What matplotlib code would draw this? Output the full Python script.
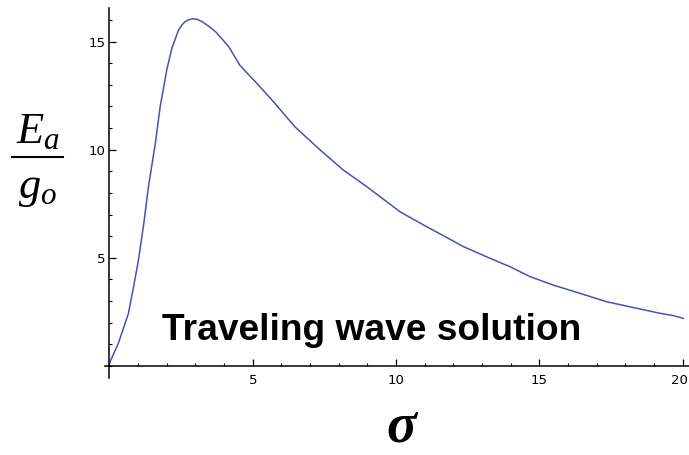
import matplotlib
matplotlib.use("Agg")
import matplotlib.pyplot as plt
from matplotlib.ticker import MultipleLocator
from matplotlib.lines import Line2D
from matplotlib.transforms import ScaledTranslation

plt.rcParams['mathtext.fontset'] = 'custom'
plt.rcParams['mathtext.it'] = 'Liberation Serif:italic'
plt.rcParams['mathtext.rm'] = 'Liberation Serif'

# Traveling wave solution: normalised field E_a/g_o versus sigma
sigma = [0.0, 0.02, 0.31, 0.66, 0.84, 1.01, 1.19, 1.36, 1.6, 1.77, 2.0, 2.18,
         2.41, 2.53, 2.64, 2.77, 2.9, 3.05, 3.23, 3.45, 3.7, 4.16, 4.55, 5.14,
         5.72, 6.47, 7.35, 8.16, 8.98, 9.44, 10.14, 11.07, 11.88, 12.35, 13.28,
         13.98, 14.68, 15.49, 16.42, 17.35, 18.4, 19.2, 19.68, 20.03]
field = [0.1, 0.2, 1.05, 2.43, 3.66, 4.9, 6.52, 8.29, 10.3, 12.0, 13.7, 14.7,
         15.53, 15.77, 15.92, 16.01, 16.05, 16.03, 15.92, 15.72, 15.46, 14.77,
         13.9, 13.07, 12.22, 11.06, 9.99, 9.06, 8.29, 7.83, 7.13, 6.44, 5.86,
         5.52, 4.98, 4.59, 4.13, 3.74, 3.36, 2.97, 2.67, 2.44, 2.33, 2.2]

x_major = [5, 10, 15, 20]
y_major = [5, 10, 15]

fig = plt.figure(figsize=(6.89, 4.55), dpi=100)
ax = fig.add_axes([105.2 / 689, (455 - 377.9) / 455, 584.5 / 689, 369.9 / 455])

ax.plot(sigma, field, color='#4b50b2', lw=1.1)

ax.set_xlim(-0.15, 20.25)
ax.set_ylim(-0.55, 16.55)

for side in ('top', 'right'):
    ax.spines[side].set_visible(False)
ax.spines['left'].set_position(('data', 0))
ax.spines['bottom'].set_position(('data', 0))
for side in ('left', 'bottom'):
    ax.spines[side].set_linewidth(1.1)

ax.set_xticks(x_major)
ax.set_yticks(y_major)
ax.set_xticklabels([str(v) for v in x_major])
ax.set_yticklabels([str(v) for v in y_major])
ax.xaxis.set_minor_locator(MultipleLocator(1))
ax.yaxis.set_minor_locator(MultipleLocator(1))
ax.tick_params(which='major', direction='in', length=5, width=0.9,
               labelsize=9.5, colors='black')
ax.tick_params(which='minor', direction='in', length=2.5, width=0.8)
ax.tick_params(axis='x', which='major', pad=6)
ax.tick_params(axis='y', which='major', pad=3)

# keep the last x tick label inside the figure edge
last = ax.get_xticklabels()[-1]
last.set_transform(last.get_transform()
                   + ScaledTranslation(-3 / 100, 0, fig.dpi_scale_trans))

# Axis labels
fig.text(386 / 689, 1 / 455, '\u03c3', family='Liberation Serif',
         style='italic', weight='bold', fontsize=40, ha='left',
         va='bottom')
fig.text(16 / 689, 1 - 143 / 455, r'$E_a$', fontsize=32, ha='left',
         va='baseline')
fig.text(18 / 689, 1 - 198 / 455, r'$g_o$', fontsize=32, ha='left',
         va='baseline')
fig.add_artist(Line2D([12 / 689, 63 / 689], [1 - 157 / 455, 1 - 157 / 455],
                      transform=fig.transFigure, color='black', lw=1.5))

fig.text(162 / 689, 1 - 340 / 455, 'Traveling wave solution',
         family='Liberation Sans', weight='bold', fontsize=26.7,
         ha='left', va='baseline')

fig.savefig('out.png', dpi=100)
